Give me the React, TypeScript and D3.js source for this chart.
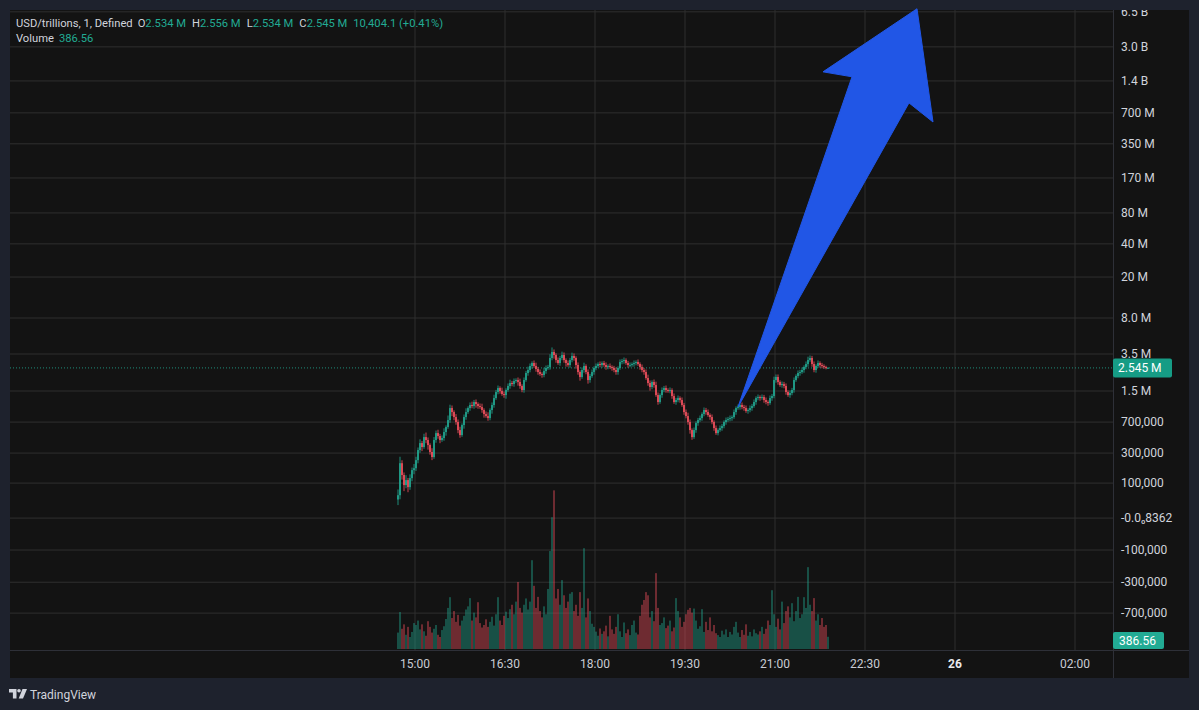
import React from "react";
import * as d3 from "d3";

const W = 1199;
const H = 710;

// ---- DATA ----
// 2-minute bars starting 14:43; closes in thousands (USD)
const startTime = new Date(2024, 0, 25, 14, 43);
const barMinutes = 2;
const firstOpenK = 125;
const closesK = [
  138, 287, 219, 174, 195, 166, 204, 245, 256, 308,
  388, 455, 416, 522, 488, 435, 371, 331, 488, 572,
  535, 488, 511, 586, 657, 771, 1015, 926, 826, 737,
  613, 547, 688, 826, 926, 1015, 1088, 1063, 1165, 1113,
  1063, 1039, 970, 885, 845, 807, 970, 1088, 1276, 1465,
  1605, 1499, 1399, 1367, 1534, 1681, 1800, 1760, 1885, 1928,
  1842, 1681, 1534, 1928, 2264, 2425, 2657, 2846, 2657, 2481,
  2316, 2213, 2163, 2370, 2538, 2597, 3193, 3665, 3420, 3048,
  2846, 3193, 3420, 3048, 2846, 2720, 3048, 3343, 3193, 2720,
  2316, 2066, 2425, 2657, 2316, 1928, 2114, 2316, 2538, 2657,
  2781, 2720, 2846, 2720, 2597, 2657, 2597, 2538, 2425, 2316,
  2538, 2912, 2979, 3048, 2846, 2720, 2720, 2781, 2846, 2912,
  2781, 2597, 2425, 2316, 2019, 1800, 1643, 1842, 1720, 1367,
  1165, 1367, 1534, 1605, 1534, 1499, 1534, 1336, 1165, 1219,
  1276, 1219, 1088, 926, 845, 737, 613, 522, 613, 720,
  771, 807, 885, 970, 926, 865, 826, 737, 642, 572,
  613, 642, 672, 737, 771, 789, 807, 826, 926, 1015,
  1039, 1088, 1039, 1015, 948, 970, 1015, 1063, 1165, 1276,
  1306, 1276, 1306, 1219, 1165, 1138, 1276, 1336, 1928, 2066,
  1842, 1720, 1760, 1681, 1465, 1367, 1432, 1534, 1928, 2114,
  2264, 2316, 2425, 2597, 2781, 3048, 3193, 2781, 2425, 2657,
  2846, 2720, 2657, 2597, 2538, 2545,
];
// wick extents beyond the body, percent
const upperWickPct = [
  14, 16, 7, 6, 12, 5, 9, 6, 10, 8,
  6, 9, 5, 8, 11, 6, 4, 9, 7, 6,
  8, 5, 6, 9, 4, 11, 8, 6, 4, 7,
  6, 8, 4, 6, 9, 4, 6, 8, 5, 6,
  4, 6, 8, 4, 6, 9, 4, 6, 8, 5,
  6, 4, 8, 6, 4, 6, 8, 5, 6, 4,
  6, 8, 4, 6, 5, 8, 6, 4, 6, 8,
  5, 6, 4, 8, 6, 5, 9, 11, 6, 4,
  6, 5, 8, 6, 4, 6, 5, 8, 6, 4,
  6, 4, 6, 8, 4, 6, 5, 6, 4, 6,
  4, 6, 4, 5, 6, 4, 6, 4, 5, 6,
  4, 6, 5, 6, 4, 5, 6, 4, 6, 4,
  6, 4, 6, 5, 6, 8, 6, 4, 6, 8,
  6, 4, 6, 5, 6, 4, 6, 4, 6, 5,
  6, 4, 6, 5, 6, 8, 6, 4, 6, 4,
  5, 6, 4, 6, 5, 6, 4, 6, 4, 6,
  4, 6, 5, 4, 6, 5, 6, 4, 6, 4,
  6, 4, 6, 5, 6, 4, 6, 5, 6, 4,
  6, 4, 6, 5, 6, 4, 6, 5, 8, 6,
  6, 4, 6, 5, 6, 4, 6, 5, 6, 4,
  6, 5, 6, 4, 6, 8, 6, 5, 6, 4,
  6, 4, 5, 4, 3, 2,
];
const lowerWickPct = [
  12, 9, 10, 13, 7, 11, 6, 7, 9, 6,
  7, 6, 9, 4, 7, 10, 6, 7, 4, 6,
  6, 7, 4, 6, 8, 4, 6, 9, 7, 6,
  7, 6, 4, 8, 6, 4, 6, 5, 6, 8,
  6, 4, 6, 8, 4, 6, 5, 8, 6, 4,
  5, 6, 4, 6, 8, 4, 6, 5, 6, 4,
  8, 6, 5, 6, 4, 6, 5, 6, 4, 6,
  6, 4, 6, 5, 6, 4, 6, 5, 8, 6,
  4, 6, 5, 6, 8, 4, 6, 5, 6, 8,
  6, 8, 4, 6, 5, 8, 6, 4, 6, 5,
  4, 5, 6, 4, 6, 5, 4, 6, 5, 6,
  6, 4, 5, 6, 4, 6, 5, 4, 6, 5,
  4, 6, 5, 6, 4, 6, 8, 5, 6, 4,
  6, 4, 6, 5, 6, 4, 5, 6, 4, 6,
  5, 6, 4, 6, 5, 6, 8, 6, 4, 6,
  6, 4, 6, 5, 6, 4, 6, 5, 6, 4,
  5, 4, 6, 5, 6, 4, 5, 6, 4, 6,
  4, 6, 5, 6, 4, 6, 5, 6, 4, 6,
  5, 6, 4, 6, 5, 6, 4, 6, 5, 6,
  6, 4, 6, 5, 6, 4, 6, 5, 6, 4,
  5, 6, 4, 6, 5, 6, 4, 6, 5, 6,
  4, 6, 5, 4, 3, 2,
];
const volumes = [
  520, 1170, 640, 780, 450, 700, 380, 540, 820, 760,
  900, 620, 780, 560, 420, 880, 700, 520, 640, 760,
  450, 380, 600, 720, 950, 1300, 1640, 980, 1200, 860,
  1080, 740, 900, 1050, 1250, 1350, 1610, 900, 1150, 1000,
  1480, 820, 680, 760, 940, 700, 860, 1020, 740, 1100,
  1640, 900, 760, 1050, 1180, 980, 1260, 1400, 1100, 1500,
  2120, 1300, 1150, 1400, 1600, 1250, 1500, 2810, 2000, 1300,
  1650, 1200, 1000, 1350, 1100, 1900, 3100, 4170, 5020, 1600,
  1900, 1400, 2180, 1700, 1300, 1500, 1750, 1800, 1200, 1400,
  1050, 1800, 1300, 3190, 1000, 1600, 1200, 800, 700, 550,
  420, 650, 480, 560, 740, 400, 1050, 620, 480, 700,
  1100, 560, 380, 840, 500, 620, 440, 760, 900, 520,
  460, 1050, 1400, 1550, 1800, 1700, 1000, 1200, 880, 2400,
  1300, 760, 820, 1000, 660, 740, 900, 560, 680, 1610,
  1200, 1000, 700, 860, 1100, 1240, 1300, 1150, 1280, 900,
  640, 720, 1260, 540, 860, 600, 1000, 560, 760, 500,
  440, 380, 580, 460, 620, 380, 540, 460, 700, 860,
  520, 380, 600, 450, 780, 420, 540, 400, 620, 500,
  460, 560, 700, 480, 640, 900, 760, 1860, 1100, 700,
  960, 620, 1500, 820, 1200, 1350, 1000, 1450, 880, 1200,
  1650, 980, 1100, 1640, 1300, 2590, 1400, 1200, 1610, 900,
  1100, 760, 980, 700, 760, 386.56,
];

const lastClose = 2.545e6;
const lastVolume = 386.56;

// price axis: grid level (value on the log scale) and its printed label
const priceTickValues = [
  8.85e9, 3.97e9, 1.82e9, 8.75e8, 4.31e8, 1.97e8, 8.85e7, 4.36e7, 2.04e7,
  7.98e6, 3.5e6, 1.5e6, 7.36e5, 3.62e5, 1.82e5, 8.17e4, 3.93e4, 1.88e4, 9.27e3,
];
const priceTickLabels = [
  "6.5 B", "3.0 B", "1.4 B", "700 M", "350 M", "170 M", "80 M", "40 M", "20 M",
  "8.0 M", "3.5 M", "1.5 M", "700,000", "300,000", "100,000", "-0.0\u20808362",
  "-100,000", "-300,000", "-700,000",
];

const timeTickValues = [
  new Date(2024, 0, 25, 15, 0),
  new Date(2024, 0, 25, 16, 30),
  new Date(2024, 0, 25, 18, 0),
  new Date(2024, 0, 25, 19, 30),
  new Date(2024, 0, 25, 21, 0),
  new Date(2024, 0, 25, 22, 30),
  new Date(2024, 0, 26, 0, 0),
  new Date(2024, 0, 26, 2, 0),
];
const timeTickLabels = ["15:00", "16:30", "18:00", "19:30", "21:00", "22:30", "26", "02:00"];

// arrow drawing anchored in (time, price)
const arrowPoints: [Date, number][] = [
  [new Date(2024, 0, 25, 20, 23), 1.04e6],
  [new Date(2024, 0, 25, 22, 17), 2.0e9],
  [new Date(2024, 0, 25, 21, 48), 2.24e9],
  [new Date(2024, 0, 25, 23, 22), 9.5e9],
  [new Date(2024, 0, 25, 23, 38), 7.1e8],
  [new Date(2024, 0, 25, 23, 14), 1.1e9],
];

const legendTitle = "USD/trillions, 1, Defined";
const legendOHLC = [
  ["O", "2.534 M"],
  ["H", "2.556 M"],
  ["L", "2.534 M"],
  ["C", "2.545 M"],
];
const legendChange = "10,404.1 (+0.41%)";

// ---- layout ----
const panel = { left: 10, top: 10, right: 1189, bottom: 678 };
const plotRight = 1113;
const plotBottom = 650;

const UP = "#22ab94";
const DOWN = "#f7525f";
const FONT = "Roboto, 'Noto Sans', sans-serif";

export default function App() {
  const x = d3
    .scaleTime()
    .domain([new Date(2024, 0, 25, 8, 15), new Date(2024, 0, 26, 2, 38)])
    .range([panel.left, plotRight]);
  const y = d3.scaleLog().domain([1.5e6, 3.5e6]).range([391, 354]);
  const yVol = d3.scaleLinear().domain([0, 5000]).range([649, 491]);

  const bars = closesK.map((ck, i) => {
    const t = d3.timeMinute.offset(startTime, i * barMinutes);
    const o = (i === 0 ? firstOpenK : closesK[i - 1]) * 1000;
    const c = ck * 1000;
    const hi = Math.max(o, c) * (1 + upperWickPct[i] / 100);
    const lo = Math.min(o, c) * (1 - lowerWickPct[i] / 100);
    return { t, o, c, hi, lo, v: volumes[i], up: c >= o };
  });

  const bw = 1.6;
  const arrowPath = d3
    .line<[Date, number]>()
    .x((d) => x(d[0]))
    .y((d) => y(d[1]))
    .curve(d3.curveLinearClosed)(arrowPoints);

  const yLast = y(lastClose);

  return (
    <svg
      width={W}
      height={H}
      style={{ position: "absolute", left: 0, top: 0, fontFamily: FONT }}
    >
      <defs>
        <clipPath id="pane">
          <rect x={panel.left} y={panel.top} width={plotRight - panel.left} height={plotBottom - panel.top} />
        </clipPath>
        <clipPath id="axis">
          <rect x={plotRight} y={panel.top} width={panel.right - plotRight} height={plotBottom - panel.top} />
        </clipPath>
      </defs>
      <rect x={0} y={0} width={W} height={H} fill="#1e222d" />
      <rect
        x={panel.left}
        y={panel.top}
        width={panel.right - panel.left}
        height={panel.bottom - panel.top}
        fill="#131313"
      />

      <g clipPath="url(#pane)">
        {/* grid */}
        {priceTickValues.map((v, i) => (
          <line key={"hg" + i} x1={panel.left} x2={plotRight} y1={y(v)} y2={y(v)} stroke="#2f2f2f" strokeWidth={1} />
        ))}
        {timeTickValues.map((t, i) => (
          <line key={"vg" + i} x1={x(t)} x2={x(t)} y1={panel.top} y2={plotBottom} stroke="#2f2f2f" strokeWidth={1} />
        ))}

        {/* volume */}
        {bars.map((b, i) => (
          <rect
            key={"v" + i}
            x={x(b.t) - bw / 2}
            y={yVol(b.v)}
            width={bw}
            height={yVol(0) - yVol(b.v)}
            fill={b.up ? "rgba(34,171,148,0.5)" : "rgba(247,82,95,0.5)"}
          />
        ))}

        {/* last price dotted line */}
        <line
          x1={panel.left}
          x2={plotRight}
          y1={yLast}
          y2={yLast}
          stroke={UP}
          strokeWidth={1}
          strokeDasharray="1 2"
          opacity={0.8}
        />

        {/* candles */}
        {bars.map((b, i) => {
          const cx = x(b.t);
          const col = b.up ? UP : DOWN;
          const top = y(Math.max(b.o, b.c));
          const bot = y(Math.min(b.o, b.c));
          return (
            <g key={"c" + i}>
              <line x1={cx} x2={cx} y1={y(b.hi)} y2={y(b.lo)} stroke={col} strokeWidth={0.8} />
              <rect x={cx - bw / 2} y={top} width={bw} height={Math.max(bot - top, 0.8)} fill={col} />
            </g>
          );
        })}
      </g>

      {/* arrow drawing */}
      <path d={arrowPath || ""} fill="#2156e6" stroke="#2156e6" strokeWidth={1} strokeLinejoin="round" />

      {/* axes separators */}
      <line x1={plotRight + 0.5} x2={plotRight + 0.5} y1={panel.top} y2={panel.bottom} stroke="#2e3038" />
      <line x1={panel.left} x2={panel.right} y1={plotBottom + 0.5} y2={plotBottom + 0.5} stroke="#2e3038" />

      {/* price axis labels */}
      <g clipPath="url(#axis)">
        {priceTickValues.map((v, i) => (
          <text
            key={"pl" + i}
            x={plotRight + 8}
            y={y(v)}
            dy="0.35em"
            fontSize={12}
            fill="#d1d4dc"
          >
            {priceTickLabels[i]}
          </text>
        ))}
      </g>

      {/* last price label */}
      <rect x={plotRight} y={yLast - 9.5} width={59} height={19} rx={2} fill="#169c85" />
      <text x={plotRight + 5} y={yLast} dy="0.36em" fontSize={12} fill="#ffffff">
        {d3.format(".4~s")(lastClose).replace("M", "") + " M"}
      </text>

      {/* last volume label */}
      <rect x={plotRight} y={plotBottom - 18} width={51} height={17} rx={2} fill="#22ab94" />
      <text x={plotRight + 6} y={plotBottom - 9.5} dy="0.36em" fontSize={12} fill="#ffffff">
        {d3.format(".2f")(lastVolume)}
      </text>

      {/* time axis labels */}
      {timeTickValues.map((t, i) => (
        <text
          key={"tl" + i}
          x={x(t)}
          y={664}
          dy="0.35em"
          textAnchor="middle"
          fontSize={12}
          fontWeight={timeTickLabels[i] === "26" ? 700 : 400}
          fill={timeTickLabels[i] === "26" ? "#e8e9ec" : "#c9ccd4"}
        >
          {timeTickLabels[i]}
        </text>
      ))}

      {/* legend */}
      <text x={16} y={27} fontSize={11.2} fill="#d1d4dc">
        {legendTitle}
        {legendOHLC.map(([k, v], i) => (
          <React.Fragment key={k}>
            <tspan dx={i === 0 ? 5 : 6}>{k}</tspan>
            <tspan fill={UP}>{v}</tspan>
          </React.Fragment>
        ))}
        <tspan dx={6} fill={UP}>{legendChange}</tspan>
      </text>
      <text x={16} y={42} fontSize={11.2} fill="#d1d4dc">
        Volume
        <tspan dx={5} fill={UP}>{d3.format(".2f")(lastVolume)}</tspan>
      </text>

      {/* TradingView logo */}
      <g fill="#d1d4dc">
        <path d="M9 689 h7.5 v9.5 h-3.6 v-6 h-3.9 z" />
        <circle cx={19} cy={690.8} r={1.8} />
        <path d="M22.5 689 h4.5 l-4 9.5 h-4.3 z" />
      </g>
      <text x={30} y={695} dy="0.35em" fontSize={12} fill="#d1d4dc">
        TradingView
      </text>
    </svg>
  );
}
